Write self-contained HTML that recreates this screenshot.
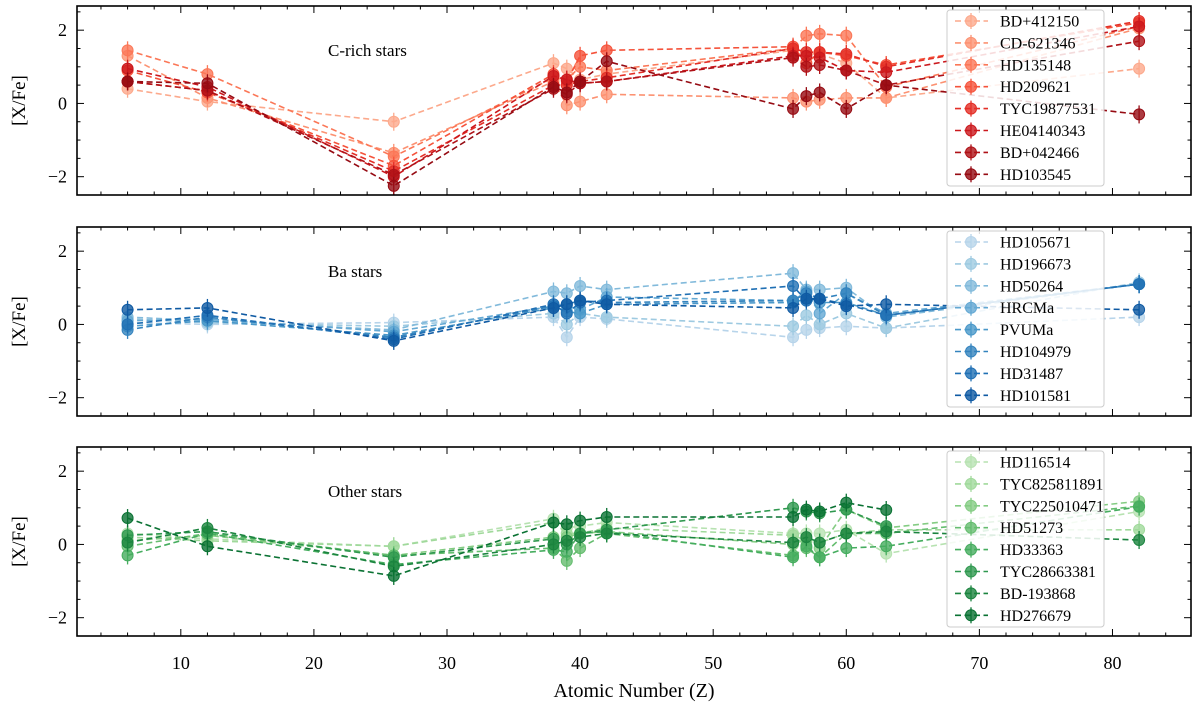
<!DOCTYPE html>
<html><head><meta charset="utf-8"><style>
html,body{margin:0;padding:0;background:#fff;}
svg{display:block;font-family:"Liberation Serif",serif;}
</style></head><body>
<svg id="chart" width="1200" height="707" viewBox="0 0 1200 707" xmlns="http://www.w3.org/2000/svg"></svg>
<script>
const zValues = [6,12,26,38,39,40,42,56,57,58,60,63,82];
const xTicks = [10,20,30,40,50,60,70,80];
const yTicks = [-2,0,2];
const panelTitles = ["C-rich stars","Ba stars","Other stars"];
const redNames = ["BD+412150","CD-621346","HD135148","HD209621","TYC19877531","HE04140343","BD+042466","HD103545"];
const redValues = [
 [0.4,0.05,-0.5,1.1,0.95,0.65,0.8,1.45,1.35,1.35,1.1,0.15,0.95],
 [1.3,0.15,-1.35,0.6,-0.05,0.05,0.25,0.15,0.05,0.1,0.15,0.15,2.05],
 [1.45,0.8,-1.45,0.7,0.65,1.0,0.9,1.5,1.85,1.9,1.85,0.45,2.1],
 [0.9,0.3,-1.7,0.8,0.6,1.3,1.45,1.55,1.1,1.4,1.3,1.05,2.2],
 [0.6,0.35,-1.85,0.5,0.5,0.6,0.7,1.5,1.4,1.4,1.35,1.0,2.25],
 [0.95,0.45,-2.0,0.75,0.65,0.55,0.6,1.3,1.3,1.25,0.9,0.85,2.1],
 [0.6,0.35,-1.95,0.4,0.25,0.55,0.6,1.25,1.0,1.05,0.9,0.5,1.7],
 [0.6,0.55,-2.25,0.45,0.3,0.6,1.15,-0.15,0.2,0.3,-0.15,0.5,-0.3]
];
const blueNames = ["HD105671","HD196673","HD50264","HRCMa","PVUMa","HD104979","HD31487","HD101581"];
const blueValues = [
 [0.05,0.0,0.05,0.2,-0.35,0.2,0.15,-0.35,-0.15,-0.1,-0.05,-0.1,0.2],
 [0.15,0.05,-0.05,0.3,0.0,0.3,0.2,-0.05,0.25,0.0,0.3,-0.1,1.15],
 [0.2,0.1,-0.15,0.9,0.85,1.05,0.95,1.4,0.95,0.95,1.0,0.2,1.1],
 [0.1,0.15,-0.2,0.5,0.5,0.4,0.75,0.65,0.9,0.3,0.85,0.3,1.1],
 [-0.05,0.1,-0.3,0.45,0.35,0.3,0.55,0.6,0.7,0.6,0.6,0.25,1.1],
 [-0.15,0.2,-0.35,0.5,0.55,0.65,0.6,0.65,0.85,0.7,0.85,0.25,1.1],
 [0.0,0.25,-0.4,0.55,0.3,0.6,0.65,1.05,0.65,0.7,0.55,0.25,1.1],
 [0.4,0.45,-0.45,0.45,0.55,0.65,0.55,0.45,0.7,0.7,0.5,0.55,0.4]
];
const greenNames = ["HD116514","TYC825811891","TYC225010471","HD51273","HD33363","TYC28663381","BD-193868","HD276679"];
const greenValues = [
 [0.3,0.15,-0.05,0.7,0.45,0.5,0.6,0.3,0.3,0.3,0.4,-0.25,0.9],
 [0.2,0.1,-0.05,0.6,0.3,0.3,0.45,0.25,0.1,0.05,0.3,0.4,0.4],
 [0.1,0.25,-0.3,0.2,0.2,0.3,0.35,0.0,0.15,-0.1,0.95,0.45,1.18],
 [-0.05,0.3,-0.3,-0.1,-0.45,-0.1,0.3,-0.3,-0.1,-0.35,0.3,0.3,1.05],
 [-0.3,0.3,-0.55,-0.15,-0.2,0.3,0.35,-0.35,-0.05,-0.35,-0.1,-0.05,1.03],
 [0.25,0.35,-0.35,0.15,0.0,0.3,0.4,1.0,0.9,0.85,0.95,0.5,null],
 [0.05,0.45,-0.6,0.0,0.1,0.2,0.3,0.05,0.2,0.05,0.3,0.35,0.12],
 [0.72,-0.05,-0.86,0.6,0.55,0.65,0.75,0.75,0.95,0.9,1.14,0.94,null]
];
const redColors = ["#fca98c","#fc9272","#fb7757","#f5533b","#e32f27","#cb181d","#af1117","#960b13"];
const blueColors = ["#b7d4ea","#9ecae1","#82badb","#63a8d3","#4a98c9","#3383be","#2070b4","#0f5aa3"];
const greenColors = ["#b7e2b1","#a0d99b","#84cc83","#65bd6f","#46ad5f","#2f984f","#1b843f","#0a7233"];

const NS="http://www.w3.org/2000/svg";
const svg=document.getElementById('chart');
const X0=77, X1=1191, ZMIN=2.2, ZMAX=85.9;
const YMIN=-2.5, YMAX=2.66, PH=189;
const panelTops=[6,227,447];
function xs(z){return X0+(z-ZMIN)/(ZMAX-ZMIN)*(X1-X0);}
function mk(tag,attrs,parent){const e=document.createElementNS(NS,tag);for(const k in attrs)e.setAttribute(k,attrs[k]);(parent||svg).appendChild(e);return e;}

const panels=[
 {key:'c-rich',names:redNames,vals:redValues,cols:redColors},
 {key:'ba',names:blueNames,vals:blueValues,cols:blueColors},
 {key:'other',names:greenNames,vals:greenValues,cols:greenColors}
];
panels.forEach((p,pi)=>{
 const top=panelTops[pi], bot=top+PH;
 const ys=v=>bot-(v-YMIN)/(YMAX-YMIN)*PH;
 const g=mk('g',{});
 
 
 const tg=mk('g',{stroke:'#000','stroke-width':1},g);
 
 
 for(let z=4;z<=84;z+=2){
   const x=xs(z), major=(z%10===0), L=major?7:3.5;
   mk('line',{x1:x,x2:x,y1:bot,y2:bot-L},tg);
   mk('line',{x1:x,x2:x,y1:top,y2:top+L},tg);
 }
 for(let v=-2.5;v<=2.5;v+=0.5){
   const y=ys(v), major=(Math.abs(v%2)<1e-9), L=major?7:3.5;
   mk('line',{x1:X0,x2:X0+L,y1:y,y2:y},tg);
   mk('line',{x1:X1,x2:X1-L,y1:y,y2:y},tg);
 }
 yTicks.forEach(v=>{
   const t=mk('text',{x:X0-10,y:ys(v)+6,'text-anchor':'end','font-size':18},g);
   t.textContent=v<0?'\u2212'+Math.abs(v):String(v);
   
   
 });
 const yl=mk('text',{x:0,y:0,'text-anchor':'middle','font-size':19,transform:`translate(25,${(top+bot)/2}) rotate(-90)`},g);
 yl.textContent='[X/Fe]';
 
 
 const pt=mk('text',{x:328,y:top+50,'font-size':17},g);
 pt.textContent=panelTitles[pi];
 
 
 p.vals.forEach((vals,si)=>{
   const col=p.cols[si];
   const sg=mk('g',{},g);
   
   
   let d='';
   vals.forEach((v,i)=>{ if(v===null)return; d+=(d?'L':'M')+xs(zValues[i]).toFixed(1)+','+ys(v).toFixed(1); });
   const ln=mk('path',{d:d,fill:'none',stroke:col,'stroke-width':1.6,'stroke-dasharray':'6,3.5'},sg);
   
   
   vals.forEach((v,i)=>{
     if(v===null)return;
     const x=xs(zValues[i]), y=ys(v);
     mk('line',{x1:x,x2:x,y1:y-9,y2:y+9,stroke:col,'stroke-width':1.3},sg);
     const c=mk('circle',{cx:x,cy:y,r:5.5,fill:col,'fill-opacity':0.8,stroke:col,'stroke-width':1},sg);
     
     
   });
 });
 const fr=mk('rect',{x:X0,y:top,width:X1-X0,height:PH,fill:'none',stroke:'#000','stroke-width':1.6},g);
 
 
 const lg=mk('g',{},g);
 
 
 mk('rect',{x:947,y:top+4,width:157,height:176,rx:3,fill:'#fff','fill-opacity':0.85,stroke:'#ccc','stroke-width':1},lg);
 p.names.forEach((n,si)=>{
   const y=top+15+si*21.9, col=p.cols[si];
   const e=mk('g',{},lg);
   
   
   mk('line',{x1:955,x2:988,y1:y,y2:y,stroke:col,'stroke-width':1.6,'stroke-dasharray':'6,3.5'},e);
   mk('line',{x1:971,x2:971,y1:y-8,y2:y+8,stroke:col,'stroke-width':1.3},e);
   mk('circle',{cx:971,cy:y,r:5.5,fill:col,'fill-opacity':0.8,stroke:col},e);
   const t=mk('text',{x:1000,y:y+5.5,'font-size':16},e);
   t.textContent=n;
 });
});
xTicks.forEach(z=>{
 const t=mk('text',{x:xs(z),y:669,'text-anchor':'middle','font-size':18});
 t.textContent=z;
 
 
});
const xt=mk('text',{x:634,y:697,'text-anchor':'middle','font-size':20});
xt.textContent='Atomic Number (Z)';


</script>
</body></html>
